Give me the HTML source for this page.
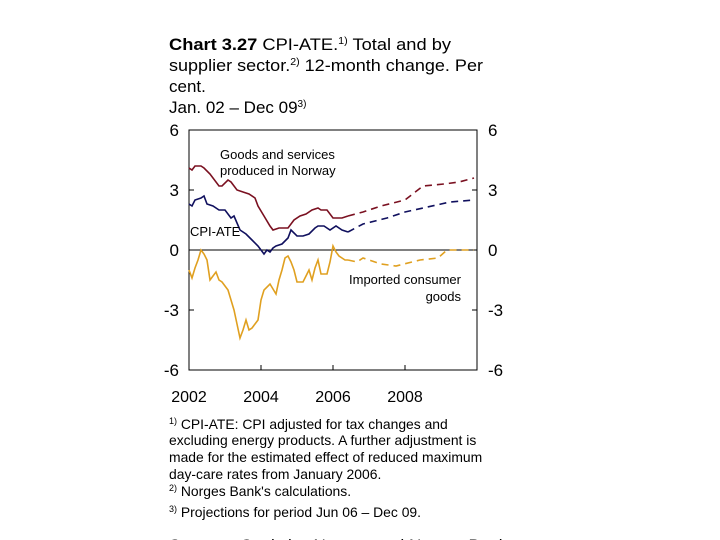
<!DOCTYPE html>
<html><head><meta charset="utf-8"><style>
body{margin:0;width:720px;height:540px;overflow:hidden;background:#fff;font-family:"Liberation Sans",sans-serif;}
svg{position:absolute;left:0;top:0}
</style></head><body>
<svg width="720" height="540" font-family="Liberation Sans, sans-serif">
<g font-size="17" fill="#000">
<text x="169" y="50" textLength="282" lengthAdjust="spacingAndGlyphs"><tspan font-weight="bold">Chart 3.27</tspan> CPI-ATE.<tspan font-size="10" dy="-6">1)</tspan><tspan dy="6"> Total and by</tspan></text>
<text x="169" y="71" textLength="314" lengthAdjust="spacingAndGlyphs">supplier sector.<tspan font-size="10" dy="-6">2)</tspan><tspan dy="6"> 12-month change. Per</tspan></text>
<text x="169" y="92">cent.</text>
<text x="169" y="113">Jan. 02 – Dec 09<tspan font-size="10" dy="-6">3)</tspan></text>
</g>
<g id="axes"></g>
<g id="series"></g>
<g font-size="13" fill="#000">
<text x="220" y="159">Goods and services</text>
<text x="220" y="175">produced in Norway</text>
<text x="190" y="236">CPI-ATE</text>
<text x="461" y="284" text-anchor="end">Imported consumer</text>
<text x="461" y="301" text-anchor="end">goods</text>
</g>
<g font-size="13.9" fill="#000">
<text x="169" y="429"><tspan font-size="9" dy="-5">1)</tspan><tspan dy="5"> CPI-ATE: CPI adjusted for tax changes and</tspan></text>
<text x="169" y="445">excluding energy products. A further adjustment is</text>
<text x="169" y="462">made for the estimated effect of reduced maximum</text>
<text x="169" y="479">day-care rates from January 2006.</text>
<text x="169" y="496"><tspan font-size="9" dy="-5">2)</tspan><tspan dy="5"> Norges Bank's calculations.</tspan></text>
<text x="169" y="517"><tspan font-size="9" dy="-5">3)</tspan><tspan dy="5"> Projections for period Jun 06 – Dec 09.</tspan></text>
<text x="169" y="551" font-size="17">Sources: Statistics Norway and Norges Bank</text>
</g>
</svg>
<script>
const yTicks=[6,3,0,-3,-6];
const xYears=[2002,2004,2006,2008];
const norwayActual=[[0,4.1],[1,4.0],[2,4.2],[4,4.2],[5,4.1],[7,3.8],[10,3.2],[11,3.2],[13,3.5],[14,3.4],[16,3.0],[18,2.9],[20,2.8],[22,2.6],[23,2.2],[25,1.7],[27,1.2],[28,1.0],[30,1.1],[31,1.1],[33,1.1],[35,1.5],[37,1.7],[39,1.8],[41,2.0],[43,2.1],[44,2.0],[46,2.0],[48,1.6],[51,1.6],[53,1.7]];
const norwayProj=[[53,1.7],[58,1.9],[64,2.2],[72,2.5],[78,3.2],[85,3.3],[90,3.4],[95,3.6]];
const cpiActual=[[0,2.3],[1,2.2],[2,2.5],[4,2.6],[5,2.7],[6,2.3],[8,2.2],[10,2.0],[12,2.0],[14,1.6],[15,1.7],[17,1.0],[19,0.8],[21,0.5],[23,0.2],[24,0.0],[25,-0.2],[26,0.0],[27,-0.1],[28,0.1],[29,0.2],[31,0.3],[33,0.6],[34,1.0],[36,0.7],[38,0.7],[40,0.8],[42,1.1],[43,1.2],[45,1.2],[47,1.0],[49,1.2],[51,1.0],[53,0.9]];
const cpiProj=[[53,0.9],[58,1.3],[66,1.6],[72,1.9],[78,2.1],[87,2.4],[95,2.5]];
const impActual=[[0,-1.0],[1,-1.4],[2,-0.9],[3,-0.5],[4,0.0],[5,-0.2],[6,-0.5],[7,-1.5],[8,-1.3],[9,-1.1],[10,-1.5],[11,-1.6],[13,-2.0],[15,-3.0],[16,-3.7],[17,-4.4],[18,-4.0],[19,-3.5],[20,-4.0],[21,-3.9],[22,-3.7],[23,-3.5],[24,-2.5],[25,-2.0],[27,-1.7],[29,-2.2],[30,-1.5],[31,-1.0],[32,-0.4],[33,-0.3],[34,-0.6],[35,-1.0],[36,-1.6],[38,-1.6],[39,-1.3],[40,-1.0],[41,-1.5],[42,-0.9],[43,-0.5],[44,-1.2],[46,-1.2],[47,-0.6],[48,0.2],[49,-0.1],[50,-0.3],[52,-0.5],[53,-0.5]];
const impProj=[[53,-0.5],[56,-0.6],[58,-0.4],[64,-0.7],[69,-0.8],[77,-0.5],[83,-0.4],[86,0.0],[95,0.0]];
const L=189,R=477,T=130,B=370,NS="http://www.w3.org/2000/svg";
const xs=m=>L+m*(R-L)/96;
const ys=v=>250-v*(B-T)/12;
function mk(tag,attrs,parent,txt){const e=document.createElementNS(NS,tag);for(const k in attrs)e.setAttribute(k,attrs[k]);if(txt!==undefined)e.textContent=txt;parent.appendChild(e);return e;}
const ax=document.getElementById('axes');
const frame=mk('rect',{x:L,y:T,width:R-L,height:B-T,fill:'none',stroke:'#000','stroke-width':1},ax);


const zl=mk('line',{x1:L,x2:R,y1:ys(0),y2:ys(0),stroke:'#000','stroke-width':1},ax);


yTicks.forEach(v=>{
  const t1=mk('text',{x:L-10,y:ys(v)+6,'text-anchor':'end','font-size':17},ax,String(v));
  
  
  const t2=mk('text',{x:R+11,y:ys(v)+6,'font-size':17},ax,String(v));
  
  
  if(v!==6&&v!==-6){
    mk('line',{x1:L,x2:L+5,y1:ys(v),y2:ys(v),stroke:'#000'},ax);
    mk('line',{x1:R-5,x2:R,y1:ys(v),y2:ys(v),stroke:'#000'},ax);
  }
});
xYears.forEach(y=>{
  const m=(y-2002)*12;
  const t=mk('text',{x:xs(m),y:402,'text-anchor':'middle','font-size':16},ax,String(y));
  
  
  if(m>0) mk('line',{x1:xs(m),x2:xs(m),y1:B-5,y2:B,stroke:'#000'},ax);
});
const sg=document.getElementById('series');
function line(data,color,dash,name){
  const p=mk('polyline',{points:data.map(d=>xs(d[0])+','+ys(d[1])).join(' '),fill:'none',stroke:color,'stroke-width':1.6,'stroke-dasharray':dash},sg);
  
  
}
line(norwayActual,'#7a1020','none','norway-line');
line(norwayProj,'#7a1020','7,5','norway-projection');
line(cpiActual,'#10105e','none','cpi-ate-line');
line(cpiProj,'#10105e','7,5','cpi-ate-projection');
line(impActual,'#e0a020','none','imported-line');
line(impProj,'#e0a020','7,5','imported-projection');
</script>
</body></html>
